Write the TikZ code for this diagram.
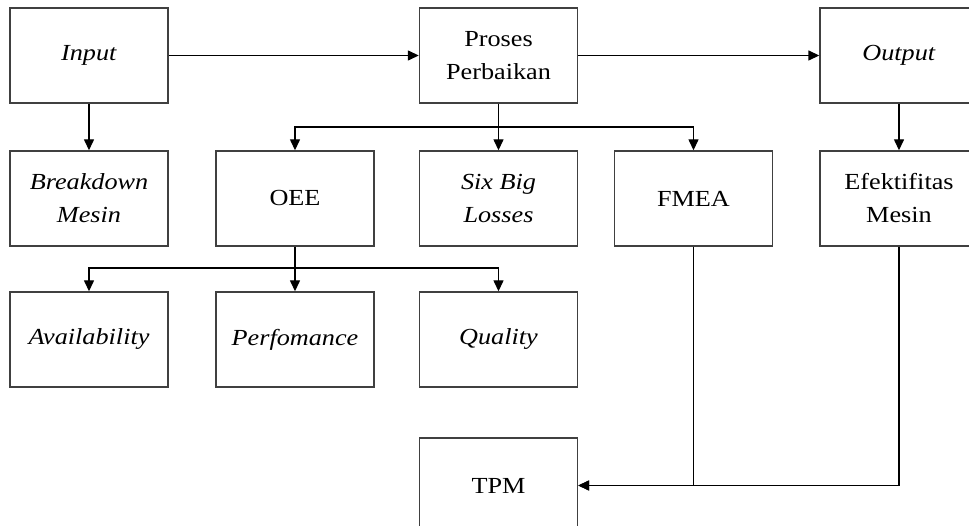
\documentclass[tikz,border=0pt]{standalone}
\usepackage{fontspec}
\setmainfont{Liberation Serif}[FakeStretch=1.14]
\usepackage{tikz}
\usetikzlibrary{arrows.meta}
\colorlet{boxLine}{black!75}
\tikzset{
  every flow box/.style={draw=boxLine,line width=1.4pt,minimum width=158pt,minimum height=95pt,
    align=center,inner sep=2pt,font=\fontsize{23}{33}\selectfont},
  flow box/.style={every flow box},
  flow arrow/.style={draw=black,line width=1.4pt,-{Triangle[length=11pt,width=10pt]}},
}

\begin{document}
\begin{tikzpicture}[x=1pt,y=-1pt]
\useasboundingbox (0,0) rectangle (969,526);
\clip (0,0) rectangle (969,526);
% top row
\node[flow box] (input) at (89,55.5) {\textit{Input}};
\node[flow box] (proses) at (498.5,55.5) {Proses\\Perbaikan};
\node[flow box] (output) at (899,55.5) {\textit{Output}};
% middle row
\node[flow box] (breakdown) at (89,198.5) {\textit{Breakdown}\\\textit{Mesin}};
\node[flow box] (oee) at (295,198.5) {OEE};
\node[flow box] (sixbig) at (498.5,198.5) {\textit{Six Big}\\\textit{Losses}};
\node[flow box] (fmea) at (693.5,198.5) {FMEA};
\node[flow box] (efektif) at (899,198.5) {Efektifitas\\Mesin};
% bottom rows
\node[flow box] (avail) at (89,339.5) {\textit{Availability}};
\node[flow box] (perf) at (295,339.5) {\textit{Perfomance}};
\node[flow box] (quality) at (498.5,339.5) {\textit{Quality}};
\node[flow box] (tpm) at (498.5,485.5) {TPM};
\coordinate (splitProses) at (498.5,127);
\coordinate (splitOee) at (295,268);
% connectors
\draw[flow arrow] (input) -- (proses);
\draw[flow arrow] (proses) -- (output);
\draw[flow arrow] (input) -- (breakdown);
\draw[flow arrow] (output) -- (efektif);
\draw[flow arrow] (proses) -- (sixbig);
\draw[flow arrow] (splitProses) -| (oee);
\draw[flow arrow] (splitProses) -| (fmea);
\draw[flow arrow] (oee) -- (perf);
\draw[flow arrow] (splitOee) -| (avail);
\draw[flow arrow] (splitOee) -| (quality);
\draw[flow arrow] (fmea.south) |- (tpm.east);
\draw[flow arrow] (efektif.south) |- (tpm.east);
\end{tikzpicture}
\end{document}
